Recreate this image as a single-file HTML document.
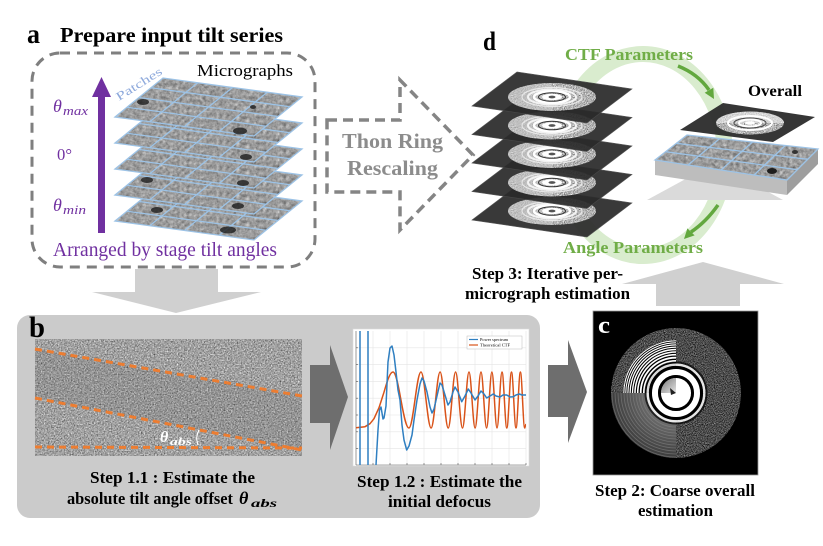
<!DOCTYPE html>
<html><head><meta charset="utf-8">
<style>
html,body{margin:0;padding:0;background:#fff}
svg{display:block}
text{font-family:"Liberation Serif",serif}
</style></head>
<body>
<svg width="823" height="546" viewBox="0 0 823 546" xmlns="http://www.w3.org/2000/svg">
<defs>
  <filter id="fm" x="0" y="0" width="1" height="1" color-interpolation-filters="sRGB">
    <feTurbulence type="fractalNoise" baseFrequency="0.3" numOctaves="3" seed="4"/>
    <feColorMatrix type="matrix" values="0.33 0.33 0.34 0 0 0.33 0.33 0.34 0 0 0.33 0.33 0.34 0 0 0 0 0 0 1"/>
    <feComponentTransfer><feFuncR type="linear" slope="0.8" intercept="0.21"/><feFuncG type="linear" slope="0.8" intercept="0.21"/><feFuncB type="linear" slope="0.8" intercept="0.21"/></feComponentTransfer>
    <feComposite operator="in" in2="SourceGraphic"/>
  </filter>
  <filter id="ft" x="0" y="0" width="1" height="1" color-interpolation-filters="sRGB">
    <feTurbulence type="fractalNoise" baseFrequency="0.7" numOctaves="2" seed="7"/>
    <feColorMatrix type="matrix" values="0.33 0.33 0.34 0 0 0.33 0.33 0.34 0 0 0.33 0.33 0.34 0 0 0 0 0 0 1"/>
    <feComponentTransfer><feFuncR type="linear" slope="1.4" intercept="-0.07"/><feFuncG type="linear" slope="1.4" intercept="-0.07"/><feFuncB type="linear" slope="1.4" intercept="-0.07"/></feComponentTransfer>
    <feComposite operator="in" in2="SourceGraphic"/>
  </filter>
  <filter id="fs" x="0" y="0" width="1" height="1" color-interpolation-filters="sRGB">
    <feTurbulence type="fractalNoise" baseFrequency="0.9" numOctaves="1" seed="2"/>
    <feColorMatrix type="matrix" values="0.33 0.33 0.34 0 0 0.33 0.33 0.34 0 0 0.33 0.33 0.34 0 0 0 0 0 0 1"/>
    <feComponentTransfer><feFuncR type="linear" slope="1.8" intercept="-0.2"/><feFuncG type="linear" slope="1.8" intercept="-0.2"/><feFuncB type="linear" slope="1.8" intercept="-0.2"/></feComponentTransfer>
    <feComposite operator="in" in2="SourceGraphic"/>
  </filter>
  <filter id="fc" x="0" y="0" width="1" height="1" color-interpolation-filters="sRGB">
    <feTurbulence type="fractalNoise" baseFrequency="1.1" numOctaves="1" seed="9"/>
    <feColorMatrix type="matrix" values="0.33 0.33 0.34 0 0 0.33 0.33 0.34 0 0 0.33 0.33 0.34 0 0 0 0 0 0 1"/>
    <feComponentTransfer><feFuncR type="linear" slope="1.8" intercept="-0.6"/><feFuncG type="linear" slope="1.8" intercept="-0.6"/><feFuncB type="linear" slope="1.8" intercept="-0.6"/></feComponentTransfer>
    <feComposite operator="in" in2="SourceGraphic"/>
  </filter>
  <radialGradient id="blg" cx="676" cy="393" r="65" gradientUnits="userSpaceOnUse">
    <stop offset="0" stop-color="#9a9a9a"/><stop offset="0.5" stop-color="#6a6a6a"/><stop offset="1" stop-color="#3c3c3c"/>
  </radialGradient>
  <linearGradient id="tlg" x1="0" y1="0" x2="1" y2="1">
    <stop offset="0" stop-color="#555"/><stop offset="1" stop-color="#ddd"/>
  </linearGradient>
  <clipPath id="plotclip"><rect x="356" y="331" width="170" height="134"/></clipPath>
  <clipPath id="cclip"><circle cx="676" cy="393" r="65"/></clipPath>
  <clipPath id="qtl"><rect x="611" y="328" width="65" height="65"/></clipPath>
  <clipPath id="qbl"><rect x="611" y="393" width="65" height="65"/></clipPath>

  <g id="ms">
    <polygon points="115,117 163,78 302,97 254,136" fill="#888" filter="url(#fm)"/>
    <g stroke="#9dc3e6" stroke-width="1.3" fill="none">
      <polygon points="115,117 163,78 302,97 254,136"/>
      <line x1="197.75" y1="82.75" x2="149.75" y2="121.75"/>
      <line x1="232.5" y1="87.5" x2="184.5" y2="126.5"/>
      <line x1="267.25" y1="92.25" x2="219.25" y2="131.25"/>
      <line x1="127" y1="107.25" x2="266" y2="126.25"/>
      <line x1="139" y1="97.5" x2="278" y2="116.5"/>
      <line x1="151" y1="87.75" x2="290" y2="106.75"/>
    </g>
  </g>

  <g id="ds">
    <polygon points="472,106 517,72 632,89 587,123" fill="#2b2b2b" opacity="0.93" stroke="#4a4a4a" stroke-width="0.6"/>
    <ellipse cx="552" cy="97" rx="44" ry="14" fill="#fff" filter="url(#fs)"/>
    <path d="M552,83 A44,14 0 0,0 552,111 Z" fill="#c8c8c8" opacity="0.6"/>
    <ellipse cx="552" cy="97" rx="30" ry="9.5" fill="none" stroke="#e8e8e8" stroke-width="1.2"/>
    <ellipse cx="552" cy="97" rx="24" ry="7.5" fill="none" stroke="#f2f2f2" stroke-width="2"/>
    <ellipse cx="552" cy="97" rx="18" ry="5.7" fill="none" stroke="#fff" stroke-width="2.5"/>
    <ellipse cx="552" cy="97" rx="13.5" ry="4.3" fill="none" stroke="#333" stroke-width="1"/>
    <ellipse cx="552" cy="97" rx="10" ry="3.2" fill="#fff"/>
    <ellipse cx="552" cy="97" rx="3.5" ry="1.4" fill="#555"/>
  </g>
</defs>

<!-- ===== Panel a ===== -->
<text x="27" y="43" font-size="27" font-weight="bold" textLength="13" lengthAdjust="spacingAndGlyphs">a</text>
<text x="60" y="42" font-size="21" font-weight="bold" textLength="223" lengthAdjust="spacingAndGlyphs">Prepare input tilt series</text>
<rect x="32" y="53" width="283" height="214" rx="28" fill="none" stroke="#7f7f7f" stroke-width="3" stroke-dasharray="10 7"/>
<text x="197" y="76" font-size="17" textLength="96" lengthAdjust="spacingAndGlyphs">Micrographs</text>

<use href="#ms" transform="translate(0,104)"/>
<use href="#ms" transform="translate(0,78)"/>
<use href="#ms" transform="translate(0,52)"/>
<use href="#ms" transform="translate(0,26)"/>
<use href="#ms"/>
<g fill="#1e1e1e" opacity="0.8">
  <ellipse cx="143" cy="102" rx="6" ry="3"/>
  <ellipse cx="253" cy="107" rx="3" ry="2"/>
  <ellipse cx="240" cy="131" rx="7" ry="3.5"/>
  <ellipse cx="246" cy="157" rx="6" ry="3"/>
  <ellipse cx="147" cy="180" rx="6" ry="3"/>
  <ellipse cx="243" cy="183" rx="6" ry="3"/>
  <ellipse cx="157" cy="210" rx="6" ry="3"/>
  <ellipse cx="238" cy="206" rx="6" ry="3"/>
  <ellipse cx="228" cy="230" rx="8" ry="3.5"/>
</g>
<text x="0" y="0" font-size="12" fill="#8faadc" transform="translate(119,101) rotate(-32)" textLength="52" lengthAdjust="spacingAndGlyphs">Patches</text>

<rect x="98" y="94" width="7" height="139" fill="#7030a0"/>
<polygon points="92,97 111,97 101.5,77" fill="#7030a0"/>
<g fill="#7030a0">
  <text x="53" y="112" font-size="18" font-style="italic">θ</text>
  <text x="63" y="115" font-size="13" font-style="italic" textLength="25" lengthAdjust="spacingAndGlyphs">max</text>
  <text x="57" y="160" font-size="17" textLength="15" lengthAdjust="spacingAndGlyphs">0°</text>
  <text x="53" y="211" font-size="18" font-style="italic">θ</text>
  <text x="63" y="214" font-size="13" font-style="italic" textLength="23" lengthAdjust="spacingAndGlyphs">min</text>
  <text x="53" y="256" font-size="20" textLength="224" lengthAdjust="spacingAndGlyphs">Arranged by stage tilt angles</text>
</g>

<!-- arrow a -> b -->
<polygon points="135,269 218,269 218,292 261,292 176,313 92,292 135,292" fill="#d0d0d0"/>

<!-- ===== Thon ring arrow ===== -->
<polygon points="327,120 400,120 400,80 473,155 400,230 400,192 327,192" fill="none" stroke="#858585" stroke-width="3.5" stroke-dasharray="10 6"/>
<text x="342" y="148" font-size="21" font-weight="bold" fill="#8c8c8c" textLength="101" lengthAdjust="spacingAndGlyphs">Thon Ring</text>
<text x="347" y="175" font-size="21" font-weight="bold" fill="#8c8c8c" textLength="91" lengthAdjust="spacingAndGlyphs">Rescaling</text>

<!-- ===== Panel d ===== -->
<ellipse cx="643" cy="155" rx="82" ry="101" fill="none" stroke="#d9ecce" stroke-width="16"/>
<text x="483" y="50" font-size="26" font-weight="bold" textLength="13" lengthAdjust="spacingAndGlyphs">d</text>
<text x="565" y="60" font-size="17" font-weight="bold" fill="#70ad47" textLength="128" lengthAdjust="spacingAndGlyphs">CTF Parameters</text>
<text x="563" y="253" font-size="17" font-weight="bold" fill="#70ad47" textLength="140" lengthAdjust="spacingAndGlyphs">Angle Parameters</text>
<path d="M678,66 Q698,74 709,90" fill="none" stroke="#62a83e" stroke-width="3.5"/>
<polygon points="714,99 704.7,92.8 713.3,87.8" fill="#62a83e"/>
<path d="M718,205 Q706,222 691,232" fill="none" stroke="#62a83e" stroke-width="3.5"/>
<polygon points="684,239 694.6,235.4 687.4,228.4" fill="#62a83e"/>
<text x="748" y="96" font-size="16" font-weight="bold" textLength="54" lengthAdjust="spacingAndGlyphs">Overall</text>

<use href="#ds" transform="translate(0,114)"/>
<use href="#ds" transform="translate(0,85.5)"/>
<use href="#ds" transform="translate(0,57)"/>
<use href="#ds" transform="translate(0,28.5)"/>
<use href="#ds"/>

<!-- shadow under slab -->
<polygon points="647,200 783,200 715,163" fill="#dadada"/>
<!-- slab -->
<polygon points="655,160 787,180 787,195 655,175" fill="#bdbdbd"/>
<polygon points="787,180 818,149 818,164 787,195" fill="#9e9e9e"/>
<polygon points="655,160 687,135 818,149 787,180" fill="#888" filter="url(#fm)"/>
<g stroke="#9dc3e6" stroke-width="1.3" fill="none">
  <polygon points="655,160 687,135 818,149 787,180"/>
  <line x1="719.75" y1="138.5" x2="688" y2="165"/>
  <line x1="752.5" y1="142" x2="721" y2="170"/>
  <line x1="785.25" y1="145.5" x2="754" y2="175"/>
  <line x1="665.7" y1="151.7" x2="797.3" y2="169.7"/>
  <line x1="676.3" y1="143.3" x2="807.7" y2="159.3"/>
</g>
<ellipse cx="772" cy="171" rx="5" ry="3" fill="#1e1e1e"/>
<ellipse cx="795" cy="152" rx="3" ry="2" fill="#333"/>
<!-- overall sheet -->
<polygon points="680,130 723,103 815,117 773,142" fill="#2b2b2b" opacity="0.95"/>
<ellipse cx="750" cy="123" rx="34" ry="11.5" fill="#fff" filter="url(#fs)"/>
<path d="M716,123 A34,11.5 0 0,1 784,123 Z" fill="#eee" opacity="0.6"/>
<ellipse cx="750" cy="123" rx="22" ry="7" fill="none" stroke="#fff" stroke-width="2"/>
<ellipse cx="750" cy="123" rx="16" ry="5" fill="none" stroke="#444" stroke-width="1"/>
<ellipse cx="750" cy="123" rx="11" ry="3.5" fill="none" stroke="#fff" stroke-width="2"/>
<ellipse cx="750" cy="123" rx="5" ry="1.8" fill="#fff"/>

<text x="472" y="279" font-size="17" font-weight="bold" textLength="151" lengthAdjust="spacingAndGlyphs">Step 3: Iterative per-</text>
<text x="465" y="299" font-size="17" font-weight="bold" textLength="165" lengthAdjust="spacingAndGlyphs">micrograph estimation</text>

<!-- arrow c -> d -->
<polygon points="656,306 740,306 740,284 784,284 703,262 622,284 656,284" fill="#d0d0d0"/>

<!-- ===== Panel b ===== -->
<rect x="17" y="315" width="523" height="203" rx="13" fill="#cbcbcb"/>
<text x="29" y="337" font-size="30" font-weight="bold" textLength="16" lengthAdjust="spacingAndGlyphs">b</text>
<rect x="35" y="339" width="267" height="117" fill="#888" filter="url(#ft)"/>
<polygon points="35,349 302,396 302,450 35,398" fill="#444" opacity="0.12"/>
<g stroke="#ed7d31" stroke-width="3" stroke-dasharray="7 5" fill="none">
  <line x1="35" y1="349" x2="302" y2="396"/>
  <line x1="35" y1="398" x2="302" y2="450"/>
  <line x1="35" y1="447" x2="302" y2="448"/>
</g>
<text x="160" y="442" font-size="16" font-weight="bold" font-style="italic" fill="#fff">θ</text>
<text x="170" y="445" font-size="11" font-weight="bold" font-style="italic" fill="#fff" textLength="22" lengthAdjust="spacingAndGlyphs">abs</text>
<path d="M199,430 Q195,437 198,445" fill="none" stroke="#fff" stroke-width="1.2"/>

<polygon points="310,365 330,365 330,345 348,397 330,450 330,423 310,423" fill="#6e6e6e"/>

<!-- plot -->
<rect x="353" y="329" width="176" height="137" fill="#fff" stroke="#ddd" stroke-width="0.6"/>
<g stroke="#e4e4e4" stroke-width="0.6">
  <line x1="373" y1="331" x2="373" y2="465"/><line x1="390" y1="331" x2="390" y2="465"/>
  <line x1="407" y1="331" x2="407" y2="465"/><line x1="424" y1="331" x2="424" y2="465"/>
  <line x1="441" y1="331" x2="441" y2="465"/><line x1="458" y1="331" x2="458" y2="465"/>
  <line x1="475" y1="331" x2="475" y2="465"/><line x1="492" y1="331" x2="492" y2="465"/>
  <line x1="509" y1="331" x2="509" y2="465"/><line x1="526" y1="331" x2="526" y2="465"/>
  <line x1="356" y1="347.8" x2="526" y2="347.8"/><line x1="356" y1="364.6" x2="526" y2="364.6"/>
  <line x1="356" y1="381.4" x2="526" y2="381.4"/><line x1="356" y1="398.2" x2="526" y2="398.2"/>
  <line x1="356" y1="415" x2="526" y2="415"/><line x1="356" y1="431.8" x2="526" y2="431.8"/>
  <line x1="356" y1="448.6" x2="526" y2="448.6"/>
</g>
<g stroke="#555" stroke-width="0.6">
  <line x1="356" y1="331" x2="356" y2="465"/><line x1="356" y1="465" x2="526" y2="465"/>
  <line x1="356" y1="347.8" x2="358" y2="347.8"/><line x1="356" y1="364.6" x2="358" y2="364.6"/>
  <line x1="356" y1="381.4" x2="358" y2="381.4"/><line x1="356" y1="398.2" x2="358" y2="398.2"/>
  <line x1="356" y1="415" x2="358" y2="415"/><line x1="356" y1="431.8" x2="358" y2="431.8"/>
  <line x1="356" y1="448.6" x2="358" y2="448.6"/>
  <line x1="373" y1="465" x2="373" y2="463"/><line x1="390" y1="465" x2="390" y2="463"/>
  <line x1="407" y1="465" x2="407" y2="463"/><line x1="424" y1="465" x2="424" y2="463"/>
  <line x1="441" y1="465" x2="441" y2="463"/><line x1="458" y1="465" x2="458" y2="463"/>
  <line x1="475" y1="465" x2="475" y2="463"/><line x1="492" y1="465" x2="492" y2="463"/>
  <line x1="509" y1="465" x2="509" y2="463"/><line x1="526" y1="465" x2="526" y2="463"/>
</g>
<g clip-path="url(#plotclip)" fill="none" stroke-linejoin="round">
  <path stroke="#d95319" stroke-width="1.5" d="M356,427.8 L365,426.7 L370,423.7 L374,418.7 L379,407.7 L384,392.2 C387.5,380 390,372 393,372 C398.7,372 403.2,428 408.9,428 C413.3,428 416.6,372 421,372 C424.6,372 427.5,428 431.1,428 C434.3,428 436.9,372 440.1,372 C443,372 445.3,428 448.2,428 C450.9,428 452.9,372 455.6,372 C458.1,372 460,428 462.5,428 C464.8,428 466.7,372 469,372 C471.2,372 472.9,428 475.1,428 C477.2,428 478.9,372 481,372 C483,372 484.6,428 486.6,428 C488.5,428 490,372 491.9,372 C493.7,372 495.2,428 497,428 C498.8,428 500.2,372 502,372 C503.7,372 505.1,428 506.8,428 C508.5,428 509.8,372 511.5,372 C513.1,372 514.4,428 516,428 C517.6,428 518.8,372 520.4,372 C521.9,372 523.2,428 524.7,428 L526,424"/>
  <path stroke="#2f7fc1" stroke-width="1.5" d="M360,465 L360,331 M368,331 L368,465 M376,465 L378,430 L379.5,410 L381,407 L383,419 L384,418 L386,406 L388,362 L390,348 L392,346 L394,355 L396,372 L398,390 L400,400 L402,425 L404,440 L406.7,450 L409,446 L412,435 L414,420 L417,400 L420,384 L422,378 L424,381 L427,392 L430,407 L432,413 L434,409 L437,396 L440,383 L442,385 L445,395 L448,405 L450,402 L453,392 L455,387 L458,392 L461.7,401.7 L465,396 L468.3,389 L471,393 L475,400 L478,396 L481,391 L484,394 L486.7,398 L490,396 L493.3,394 L496,396 L500,397 L503,395 L506.7,395 L510,397 L513.3,396.7 L516,395 L519.3,394 L522,395 L526,395"/>
</g>
<rect x="467" y="336" width="55" height="13" fill="#fff" stroke="#bbb" stroke-width="0.5"/>
<line x1="469" y1="339.5" x2="478" y2="339.5" stroke="#2f7fc1" stroke-width="1.2"/>
<line x1="469" y1="345" x2="478" y2="345" stroke="#d95319" stroke-width="1.2"/>
<text x="480" y="341" font-size="3.6" font-family="Liberation Sans, sans-serif" textLength="28" lengthAdjust="spacingAndGlyphs">Power spectrum</text>
<text x="480" y="346.5" font-size="3.6" font-family="Liberation Sans, sans-serif" textLength="30" lengthAdjust="spacingAndGlyphs">Theoretical CTF</text>

<text x="90" y="483" font-size="17" font-weight="bold" textLength="165" lengthAdjust="spacingAndGlyphs">Step 1.1 : Estimate the</text>
<text x="67" y="504" font-size="17" font-weight="bold" textLength="166" lengthAdjust="spacingAndGlyphs">absolute tilt angle offset</text>
<text x="239" y="504" font-size="18" font-weight="bold" font-style="italic">θ</text>
<text x="251" y="507" font-size="12" font-weight="bold" font-style="italic" textLength="26" lengthAdjust="spacingAndGlyphs">abs</text>
<text x="357" y="487" font-size="17" font-weight="bold" textLength="165" lengthAdjust="spacingAndGlyphs">Step 1.2 : Estimate the</text>
<text x="388" y="507" font-size="17" font-weight="bold" textLength="103" lengthAdjust="spacingAndGlyphs">initial defocus</text>

<polygon points="548,365 568,365 568,340 587,392 568,443 568,417 548,417" fill="#6e6e6e"/>

<!-- ===== Panel c ===== -->
<rect x="593" y="311" width="165" height="164" fill="#000" stroke="#999" stroke-width="0.8"/>
<g clip-path="url(#cclip)">
  <rect x="611" y="328" width="131" height="130" fill="#fff" filter="url(#fc)"/>
  <g clip-path="url(#qbl)">
    <rect x="611" y="393" width="65" height="65" fill="url(#blg)"/>
    <g fill="none" stroke="#888" stroke-width="0.8" opacity="0.6">
      <circle cx="676" cy="393" r="34"/><circle cx="676" cy="393" r="37"/><circle cx="676" cy="393" r="40"/>
      <circle cx="676" cy="393" r="43"/><circle cx="676" cy="393" r="46"/><circle cx="676" cy="393" r="49"/>
      <circle cx="676" cy="393" r="52"/><circle cx="676" cy="393" r="55"/><circle cx="676" cy="393" r="58"/>
      <circle cx="676" cy="393" r="61"/><circle cx="676" cy="393" r="64"/>
    </g>
  </g>
  <g clip-path="url(#qtl)">
    <circle cx="676" cy="393" r="52.5" fill="#000"/>
    <g fill="none" stroke="#fff">
      <circle cx="676" cy="393" r="32" stroke-width="2"/>
      <circle cx="676" cy="393" r="35.3" stroke-width="1.8"/>
      <circle cx="676" cy="393" r="38.3" stroke-width="1.6"/>
      <circle cx="676" cy="393" r="41" stroke-width="1.5"/>
      <circle cx="676" cy="393" r="43.5" stroke-width="1.4"/>
      <circle cx="676" cy="393" r="45.9" stroke-width="1.3"/>
      <circle cx="676" cy="393" r="48.1" stroke-width="1.2"/>
      <circle cx="676" cy="393" r="50.2" stroke-width="1.1"/>
      <circle cx="676" cy="393" r="52.1" stroke-width="1"/>
    </g>
  </g>
  <circle cx="676" cy="393" r="30.5" fill="none" stroke="#000" stroke-width="2" opacity="0.7"/>
  <circle cx="676" cy="393" r="28.3" fill="none" stroke="#fff" stroke-width="2.4" opacity="0.85"/>
  <circle cx="676" cy="393" r="25.5" fill="none" stroke="#000" stroke-width="3"/>
  <circle cx="676" cy="393" r="21" fill="none" stroke="#fff" stroke-width="6"/>
  <circle cx="676" cy="393" r="16.5" fill="none" stroke="#000" stroke-width="3"/>
  <circle cx="676" cy="393" r="15" fill="#fff"/>
  <path d="M676,393 L661,393 A15,15 0 0,1 676,378 Z" fill="url(#tlg)" opacity="0.8"/>
  <polygon points="676,393 670,388 671,395" fill="#222"/>
</g>
<text x="598" y="333" font-size="24" font-weight="bold" fill="#fff" textLength="12" lengthAdjust="spacingAndGlyphs">c</text>
<text x="595" y="496" font-size="17" font-weight="bold" textLength="160" lengthAdjust="spacingAndGlyphs">Step 2: Coarse overall</text>
<text x="638" y="516" font-size="17" font-weight="bold" textLength="75" lengthAdjust="spacingAndGlyphs">estimation</text>
</svg>
</body></html>
